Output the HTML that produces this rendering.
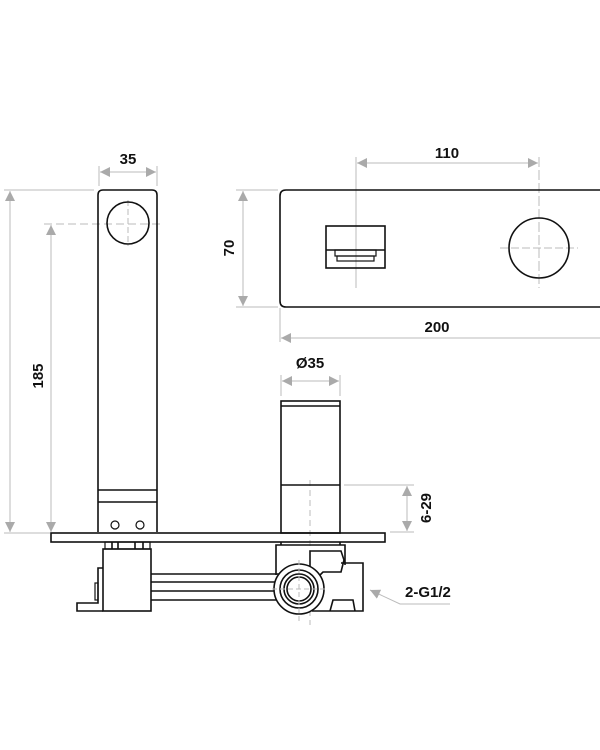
<!DOCTYPE html>
<html><head><meta charset="utf-8"><style>
html,body{margin:0;padding:0;background:#fff;}
svg{display:block;}
text{font-family:"Liberation Sans",sans-serif;font-weight:bold;fill:#111;}
</style></head><body>
<svg width="600" height="750" viewBox="0 0 600 750" xmlns="http://www.w3.org/2000/svg">
<defs>
<marker id="a" viewBox="0 0 10 10" refX="10" refY="5" markerWidth="10" markerHeight="10" orient="auto-start-reverse" markerUnits="userSpaceOnUse"><path d="M0,0 L10,5 L0,10z" fill="#aaa"/></marker>
</defs>
<g stroke="#bbb" stroke-width="1" fill="none">
<line x1="99" y1="166" x2="99" y2="186"/><line x1="157" y1="166" x2="157" y2="186"/>
<line x1="100" y1="172" x2="156" y2="172" marker-start="url(#a)" marker-end="url(#a)"/>
<line x1="4" y1="190" x2="94" y2="190"/>
<line x1="4" y1="533" x2="50" y2="533"/>
<line x1="10" y1="191" x2="10" y2="532" marker-start="url(#a)" marker-end="url(#a)"/>
<line x1="51" y1="225" x2="51" y2="532" marker-start="url(#a)" marker-end="url(#a)"/>
<line x1="44" y1="224" x2="160" y2="224" stroke-dasharray="8,4"/>
<line x1="128" y1="200" x2="128" y2="246" stroke-dasharray="6,3"/>
<line x1="356" y1="157" x2="356" y2="288"/><line x1="539" y1="157" x2="539" y2="288" stroke-dasharray="10,3"/>
<line x1="357" y1="163" x2="538" y2="163" marker-start="url(#a)" marker-end="url(#a)"/>
<line x1="236" y1="190" x2="278" y2="190"/><line x1="236" y1="307" x2="278" y2="307"/>
<line x1="243" y1="191" x2="243" y2="306" marker-start="url(#a)" marker-end="url(#a)"/>
<line x1="280" y1="308" x2="280" y2="342"/>
<line x1="281" y1="338" x2="600" y2="338" marker-start="url(#a)"/>
<line x1="500" y1="248" x2="578" y2="248" stroke-dasharray="8,3"/>
<line x1="281" y1="375" x2="281" y2="396"/><line x1="340" y1="375" x2="340" y2="396"/>
<line x1="282" y1="381" x2="339" y2="381" marker-start="url(#a)" marker-end="url(#a)"/>
<line x1="344" y1="485" x2="414" y2="485"/><line x1="390" y1="532" x2="414" y2="532"/>
<line x1="407" y1="486" x2="407" y2="531" marker-start="url(#a)" marker-end="url(#a)"/>
<line x1="310" y1="480" x2="310" y2="625" stroke-dasharray="6,4"/>
<polyline points="450,604 400,604 370,590" marker-end="url(#a)"/>
</g>
<g stroke="#111" stroke-width="1.6" fill="none">
<path d="M98,532 L98,195 Q98,190 103,190 L152,190 Q157,190 157,195 L157,532"/>
<circle cx="128" cy="223" r="21"/>
<line x1="98" y1="490" x2="157" y2="490"/><line x1="98" y1="502" x2="157" y2="502"/>
<circle cx="115" cy="525" r="4" stroke-width="1.2"/><circle cx="140" cy="525" r="4" stroke-width="1.2"/>
<rect x="51" y="533" width="334" height="9"/>
<path d="M600,190 L286,190 Q280,190 280,196 L280,301 Q280,307 286,307 L600,307"/>
<rect x="326" y="226" width="59" height="42"/>
<line x1="326" y1="250" x2="385" y2="250"/>
<rect x="335" y="250" width="41" height="6" stroke-width="1.2"/>
<rect x="337" y="256" width="37" height="5" stroke-width="1.2"/>
<circle cx="539" cy="248" r="30"/>
<rect x="281" y="401" width="59" height="132"/>
<line x1="281" y1="406" x2="340" y2="406"/>
<line x1="281" y1="485" x2="340" y2="485"/>
<rect x="105" y="542" width="45" height="7" stroke-width="1.2"/>
<line x1="112" y1="542" x2="112" y2="549"/><line x1="118" y1="542" x2="118" y2="549"/>
<line x1="135" y1="542" x2="135" y2="549"/><line x1="143" y1="542" x2="143" y2="549"/>
<rect x="103" y="549" width="48" height="62"/>
<path d="M103,568 L98,568 L98,603 L77,603 L77,611 L103,611"/>
<rect x="95" y="583" width="3" height="17" stroke-width="1.2"/>
<line x1="151" y1="574" x2="285" y2="574"/><line x1="151" y1="582" x2="278" y2="582"/>
<line x1="151" y1="591" x2="276" y2="591"/><line x1="151" y1="600" x2="280" y2="600"/>
<path d="M276,575 L276,545 L345,545 L345,565"/>
<line x1="281" y1="542" x2="281" y2="545"/><line x1="340" y1="542" x2="340" y2="545"/>
<path d="M310,575 L310,551 L341,551 L344,560 L341,572 L323,572 L318,577"/>
<path d="M341,563 L363,563 L363,611 L312,611"/>
<path d="M330,611 L333,600 L353,600 L355,611"/>
<circle cx="299" cy="589" r="25" fill="#fff"/>
<circle cx="299" cy="589" r="19"/>
<circle cx="299" cy="589" r="15"/>
<circle cx="299" cy="589" r="12"/>
</g>
<g stroke="#bbb" stroke-width="1" stroke-dasharray="5,3">
<line x1="299" y1="560" x2="299" y2="622"/><line x1="272" y1="589" x2="328" y2="589"/>
</g>
<text x="128" y="164" font-size="15" text-anchor="middle">35</text>
<text x="447" y="158" font-size="15" text-anchor="middle">110</text>
<text x="437" y="332" font-size="15" text-anchor="middle">200</text>
<text x="310" y="368" font-size="15" text-anchor="middle">Ø35</text>
<text x="405" y="597" font-size="15">2-G1/2</text>
<text transform="translate(234,248) rotate(-90)" font-size="15" text-anchor="middle">70</text>
<text transform="translate(43,376) rotate(-90)" font-size="15" text-anchor="middle">185</text>
<text transform="translate(431,508) rotate(-90)" font-size="15" text-anchor="middle">6-29</text>
<text transform="translate(-1,370) rotate(-90)" font-size="15" text-anchor="middle">245</text>
</svg>
</body></html>
